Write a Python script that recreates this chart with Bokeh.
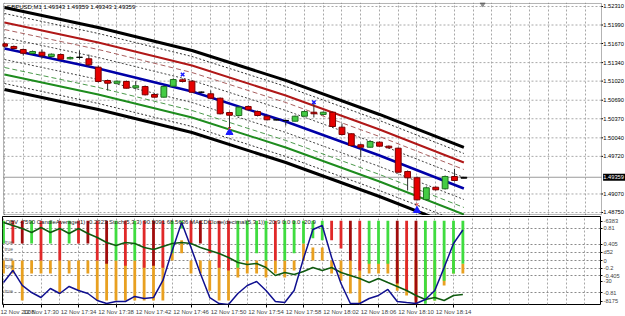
from bokeh.plotting import figure
from bokeh.layouts import column
from bokeh.models import (Range1d, FixedTicker, BoxAnnotation, ColumnDataSource)
from bokeh.embed import file_html
from bokeh.resources import INLINE
from bokeh.core.properties import value

FONT = "Liberation Sans"

chart_title = "GBPUSD,M1  1.49343 1.49359 1.49343 1.49359"
lower_legend = ("OBV -7590  CandleAverage(1) -0.2323  Stoch(5,3,3) 90.9091 68.5636  "
                "MACDClose(decimal(5,3,1)) -20.9 0.0 0.0 -20.9")

# ---------------- price data (1-minute bars, 17:26 .. 18:15) ----------------
opens = [1.51665, 1.51619, 1.51567, 1.51498, 1.51520, 1.51446, 1.51480, 1.51406, 1.51434, 1.51406,
         1.51261, 1.51031, 1.50984, 1.51014, 1.50905, 1.50927, 1.50789, 1.50743, 1.50933, 1.51043,
         1.51019, 1.50829, 1.50801, 1.50725, 1.50478, 1.50426, 1.50582, 1.50495, 1.50414, 1.50352,
         1.50340, 1.50328, 1.50414, 1.50483, 1.50444, 1.50483, 1.50224, 1.50110, 1.49920, 1.49878,
         1.49965, 1.49896, 1.49861, 1.49458, 1.49350, 1.48975, 1.49187, 1.49160, 1.49372, 1.49343]
highs = [1.51688, 1.51636, 1.51584, 1.51550, 1.51567, 1.51498, 1.51498, 1.51446, 1.51550, 1.51480,
         1.51290, 1.51048, 1.51031, 1.51031, 1.51019, 1.50945, 1.50807, 1.50945, 1.51066, 1.51066,
         1.51031, 1.50841, 1.50858, 1.50737, 1.50495, 1.50582, 1.50599, 1.50513, 1.50426, 1.50374,
         1.50357, 1.50426, 1.50513, 1.50651, 1.50495, 1.50495, 1.50288, 1.50115, 1.49942, 1.49994,
         1.49977, 1.49908, 1.49873, 1.49476, 1.49372, 1.49199, 1.49199, 1.49389, 1.49505, 1.49359]
lows = [1.51601, 1.51567, 1.51463, 1.51480, 1.51411, 1.51429, 1.51394, 1.51394, 1.51394, 1.51273,
        1.50997, 1.50858, 1.50962, 1.50893, 1.50876, 1.50772, 1.50737, 1.50737, 1.50927, 1.50997,
        1.50824, 1.50815, 1.50720, 1.50444, 1.50167, 1.50409, 1.50513, 1.50409, 1.50340, 1.50340,
        1.50253, 1.50323, 1.50409, 1.50392, 1.50426, 1.50219, 1.50081, 1.49891, 1.49706, 1.49873,
        1.49891, 1.49856, 1.49441, 1.49130, 1.48957, 1.48957, 1.49130, 1.49147, 1.49286, 1.49343]
closes = [1.51624, 1.51584, 1.51503, 1.51532, 1.51458, 1.51486, 1.51399, 1.51429, 1.51430, 1.51302,
          1.51014, 1.50984, 1.51019, 1.50898, 1.50940, 1.50784, 1.50743, 1.50927, 1.51048, 1.51014,
          1.50829, 1.50829, 1.50725, 1.50456, 1.50431, 1.50570, 1.50525, 1.50426, 1.50352, 1.50350,
          1.50340, 1.50414, 1.50495, 1.50456, 1.50483, 1.50236, 1.50098, 1.49908, 1.49878, 1.49977,
          1.49896, 1.49868, 1.49446, 1.49350, 1.48969, 1.49177, 1.49142, 1.49372, 1.49303, 1.49359]
bars = list(range(len(opens)))

current_price = 1.49359

price_ticks = [1.52310, 1.51990, 1.51670, 1.51340, 1.51020, 1.50690, 1.50370,
               1.50040, 1.49720, 1.49070, 1.48750]

time_tick_bars = [0, 4, 8, 12, 16, 20, 24, 28, 32, 36, 40, 44, 48]
time_tick_labels = ["12 Nov 2008", "12 Nov 17:30", "12 Nov 17:34", "12 Nov 17:38",
                    "12 Nov 17:42", "12 Nov 17:46", "12 Nov 17:50", "12 Nov 17:54",
                    "12 Nov 17:58", "12 Nov 18:02", "12 Nov 18:06", "12 Nov 18:10",
                    "12 Nov 18:14"]
grid_bars = list(range(0, 64, 2))

# regression channel: centre line knots and band levels
center_knot_bars = [0, 10, 20, 30, 40, 49]
center_knot_prices = [1.51584, 1.51239, 1.50841, 1.50323, 1.49735, 1.49165]
band_levels = [0.00709, 0.00605, 0.00449, 0.00328, 0.00190,
               -0.00190, -0.00328, -0.00449, -0.00605, -0.00709]
band_colors = ["#000000", "#333333", "#b01818", "#a86060", "#444444",
               "#444444", "#4d9a4d", "#1e8c1e", "#333333", "#000000"]
band_widths = [3, 1, 2, 1, 1, 1, 1, 2, 1, 3]
band_dashes = ["solid", "2 2", "solid", "5 3", "2 2",
               "2 2", "5 3", "solid", "2 2", "solid"]

# signal markers
x_mark_bars = [19, 33]
x_mark_prices = [1.51135, 1.50656]
arrow_bars = [24, 44]
arrow_prices = [1.50133, 1.48785]
red_mark_prices = [1.50202, 1.48888]

# ---------------- lower indicator panel ----------------
hist_colors = ["G", "R", "D", "G", "R", "G", "R", "G", "R", "D",
               "R", "D", "G", "R", "G", "R", "D", "R", "G", "G",
               "R", "D", "R", "R", "R", "G", "G", "G", "G", "R",
               "G", "G", "G", "G", "G", "R", "R", "D", "R", "G",
               "G", "G", "D", "R", "D", "G", "G", "G", "G", "G"]
hist_ends = [0.43, 0.43, 0.43, 0.43, 0.0, 0.43, 0.0, 0.43, 0.43, 0.43,
             0.0, -0.08, 0.0, -0.13, 0.0, -0.18, -0.13, -0.18, 0.18, 0.81,
             0.43, 0.43, 0.18, -0.18, -0.25, -0.18, 0.0, 0.18, 0.0, 0.0,
             0.0, 0.18, 0.43, 0.56, 0.51, 0.51, 0.30, 0.0, -0.25, -0.08,
             -0.08, -0.08, -0.58, -0.76, -1.11, -1.09, -1.01, -0.51, -0.33, -0.08]
orange_tops = [0, 0, 0, 0, 0, 0, 0, 0, 0, 0,
               0, 0, 0, 0, 0, 0, 0, 0, 0.43, 0.51,
               0, 0, 0, 0, 0, 0, 0, 0, 0, 0,
               0, 0, 0.43, 0.33, 0.33, 0, 0, 0, 0, 0,
               0, 0, 0, 0, 0, 0, 0, 0, 0, -0.08]
orange_bottoms = [-0.33, -0.33, -1.01, -0.33, -0.33, -0.33, -0.83, -0.33, -0.76, -0.33,
                  -1.01, -1.01, -1.01, -1.01, -1.01, -1.01, -1.01, -1.01, 0.0, 0.18,
                  -0.33, -0.33, -0.76, -1.01, -1.01, -0.43, -0.33, -0.33, -0.43, -0.33,
                  -0.43, -0.25, 0.0, 0.0, 0.0, -0.33, -0.51, -0.83, -1.09, -0.33,
                  -0.33, -0.33, -0.76, -0.88, -1.01, -1.01, -1.01, -0.63, -0.33, -0.33]
stoch_main = [26.8, 41.5, 23.2, 14.6, 8.5, 19.5, 13.4, 22.0, 17.0, 13.4,
              4.9, 1.2, 3.7, 3.7, 9.8, 7.3, 8.5, 29.3, 65.9, 100.0,
              69.5, 37.8, 8.5, 1.2, 0.0, 13.4, 23.2, 28.0, 17.0, 3.7,
              2.4, 17.0, 56.0, 91.5, 96.3, 57.3, 25.6, 1.2, 1.2, 7.3,
              11.0, 18.3, 3.7, 2.4, 1.2, 6.1, 17.0, 45.0, 74.4, 90.9]
slow_line = [100.0, 96.3, 92.7, 87.8, 93.9, 87.8, 92.7, 86.6, 92.7, 86.6,
             81.7, 75.6, 72.0, 75.6, 74.4, 69.5, 67.1, 70.7, 74.4, 75.6,
             74.4, 69.5, 65.9, 62.2, 57.3, 51.2, 48.8, 50.0, 45.1, 35.4,
             39.0, 36.6, 40.2, 45.1, 41.5, 45.1, 39.0, 35.4, 31.7, 26.8,
             31.7, 26.8, 22.0, 17.1, 11.0, 6.1, 8.5, 4.9, 11.0, 12.2]

lower_tick_values = [0.99, 0.81, 0.405, 0.21, 0.0, -0.195, -0.39, -0.52, -0.81, -1.03]
lower_tick_labels = ["-6383", "0.81", "0.405", "d52", "0", "-0.2", "-0.405", "-30", "-0.81", "-8175"]
lower_grid_values = [0.81, 0.405, 0.21, 0.0, -0.195, -0.39, -0.81]
true_label_values = [0.455, 0.28, 0.05, -0.13, -0.76]

# ---------------- styling ----------------
GRID = "#a8a8a8"
hist_palette = {"G": "#3fdc3f", "R": "#e02828", "D": "#a00c0c"}

# plot-area extents (price panel) in data units
AREA_LEFT, AREA_RIGHT = -0.107, 63.68
AREA_TOP, AREA_BOTTOM = 1.52362, 1.48716
SCALE_X = 63.88         # where the price-scale labels start
TICK_END = 63.85

# ---------------- main price panel (frame also covers the price scale) ----------------
p = figure(frame_width=624, frame_height=213, x_range=Range1d(-0.2133, 66.347),
           y_range=Range1d(1.48698, 1.52379), x_axis_location=None, y_axis_location=None,
           toolbar_location=None, output_backend="svg",
           background_fill_color="white", border_fill_color="white")
p.min_border_left = 1
p.min_border_right = 0
p.min_border_top = 2
p.min_border_bottom = 0
p.outline_line_color = None
p.ygrid.visible = False
p.xgrid.ticker = FixedTicker(ticks=grid_bars)
p.xgrid.grid_line_color = GRID
p.xgrid.grid_line_dash = "2 2"
p.xgrid.bounds = (0, 62)

# horizontal grid lines and price-scale ticks
n = len(price_ticks)
p.segment(x0=[AREA_LEFT] * n, y0=price_ticks, x1=[AREA_RIGHT] * n, y1=price_ticks,
          line_color=GRID, line_dash="2 2", line_width=1)
p.segment(x0=[AREA_RIGHT] * n, y0=price_ticks, x1=[TICK_END] * n, y1=price_ticks,
          line_color="#000000", line_width=1)
p.text(x=[SCALE_X] * n, y=price_ticks, text=["%.5f" % t for t in price_ticks],
       text_font=value(FONT), text_font_size="5.7px", text_baseline="middle",
       text_align="left", text_color="#000000")

# current price line and its black price box
p.segment(x0=[AREA_LEFT], y0=[current_price], x1=[AREA_RIGHT], y1=[current_price],
          line_color="#9a9a9a", line_width=1)
p.quad(left=[TICK_END], right=[66.2], top=[current_price + 0.00062],
       bottom=[current_price - 0.00062], fill_color="#000000", line_color=None)
p.text(x=[SCALE_X], y=[current_price], text=["%.5f" % current_price],
       text_font=value(FONT), text_font_size="5.7px", text_baseline="middle",
       text_align="left", text_color="#ffffff")

# channel lines
for lvl, col, w, d in zip(band_levels, band_colors, band_widths, band_dashes):
    p.line(center_knot_bars, [c + lvl for c in center_knot_prices],
           line_color=col, line_width=w, line_dash=d)
p.line(center_knot_bars, center_knot_prices, line_color="#0000a8", line_width=2.5)

# candles
body_top, body_bot, fills, lines = [], [], [], []
for o, c in zip(opens, closes):
    body_top.append(max(o, c))
    body_bot.append(min(o, c))
    if abs(c - o) < 0.0002:
        fills.append("#000000"); lines.append("#000000")
    elif c > o:
        fills.append("#44cc44"); lines.append("#1f6f1f")
    else:
        fills.append("#e60000"); lines.append("#7a0000")
src = ColumnDataSource(dict(x=bars, high=highs, low=lows, top=body_top, bottom=body_bot,
                            fill=fills, line=lines))
p.segment(x0="x", y0="low", x1="x", y1="high", source=src, line_color="#303030", line_width=1)
p.vbar(x="x", top="top", bottom="bottom", width=0.62, source=src,
       fill_color="fill", line_color="line", line_width=1)

# signal markers
p.scatter(x_mark_bars, x_mark_prices, marker="x", size=5, line_color="#1a1aff", line_width=1.5)
p.scatter(arrow_bars, arrow_prices, marker="triangle", size=7,
          fill_color="#1a1aff", line_color="#1a1aff")
p.scatter(arrow_bars, red_mark_prices, marker="x", size=4, line_color="#e03030", line_width=1)
p.scatter([51], [1.52350], marker="inverted_triangle", size=5,
          fill_color="#909090", line_color="#909090")

p.text(x=[0.21], y=[1.52293], text=[chart_title], text_font=value(FONT),
       text_font_size="6px", text_baseline="middle", text_align="left", text_color="#000000")

# plot-area border
p.add_layout(BoxAnnotation(left=AREA_LEFT, right=AREA_RIGHT, top=AREA_TOP, bottom=AREA_BOTTOM,
                           fill_alpha=0.0, line_color="#000000", line_width=1))

# ---------------- lower indicator panel ----------------
q = figure(frame_width=598, frame_height=88, x_range=Range1d(AREA_LEFT, AREA_RIGHT),
           y_range=Range1d(-1.11, 1.11), y_axis_location="right",
           toolbar_location=None, output_backend="svg",
           background_fill_color="white", border_fill_color="white")
q.extra_y_ranges = {"stoch": Range1d(0, 107.3)}
q.min_border_left = 2
q.min_border_right = 0
q.min_border_top = 1
q.min_border_bottom = 0
q.outline_line_color = "#000000"

q.yaxis.ticker = FixedTicker(ticks=lower_tick_values)
q.yaxis.major_label_overrides = {v: t for v, t in zip(lower_tick_values, lower_tick_labels)}
q.yaxis.axis_line_color = None
q.yaxis.major_tick_out = 2
q.yaxis.major_tick_in = 0
q.yaxis.minor_tick_line_color = None
q.yaxis.major_label_standoff = 1
q.yaxis.major_label_text_font = FONT
q.yaxis.major_label_text_font_size = "5.7px"
q.ygrid.ticker = FixedTicker(ticks=lower_grid_values)
q.ygrid.grid_line_color = "#8a8a8a"
q.ygrid.grid_line_dash = "2 2"

q.xaxis.ticker = FixedTicker(ticks=time_tick_bars)
q.xaxis.major_label_overrides = {b: t for b, t in zip(time_tick_bars, time_tick_labels)}
q.xaxis.axis_line_color = None
q.xaxis.major_tick_out = 3
q.xaxis.major_tick_in = 0
q.xaxis.minor_tick_line_color = None
q.xaxis.major_label_standoff = 1
q.xaxis.major_label_text_font = FONT
q.xaxis.major_label_text_font_size = "6px"
q.xaxis.major_label_text_align = "left"
q.xgrid.ticker = FixedTicker(ticks=grid_bars)
q.xgrid.grid_line_color = GRID
q.xgrid.grid_line_dash = "2 2"

q.vbar(x=bars, top=orange_tops, bottom=orange_bottoms, width=0.3,
       fill_color="#e8a020", line_color=None)
q.vbar(x=bars, top=[1.0] * len(bars), bottom=hist_ends, width=0.3,
       fill_color=[hist_palette[c] for c in hist_colors], line_color=None)
q.line(bars, slow_line, y_range_name="stoch", line_color="#0f5a0f", line_width=1.5)
q.line(bars, stoch_main, y_range_name="stoch", line_color="#101090", line_width=1.5)

q.text(x=[0.2], y=[0.96], text=[lower_legend], text_font=value(FONT),
       text_font_size="6px", text_baseline="middle", text_align="left", text_color="#202020")
q.text(x=[0.1] * len(true_label_values), y=true_label_values,
       text=["true"] * len(true_label_values), text_font=value(FONT),
       text_font_size="5px", text_baseline="middle", text_align="left", text_color="#606060")

layout = column(p, q, spacing=0)
open("out.html", "w").write(file_html(layout, INLINE))
